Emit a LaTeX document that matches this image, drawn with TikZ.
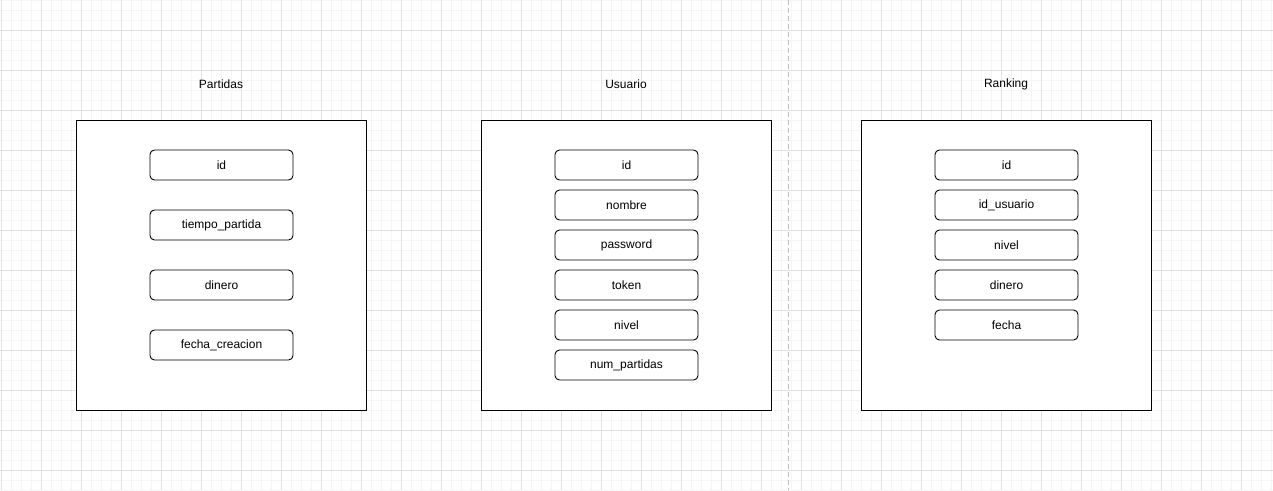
\documentclass[tikz,border=0pt]{standalone}
\usepackage{fontspec}
\setmainfont{Liberation Sans}
\usepackage{tikz}
\usetikzlibrary{positioning}

\definecolor{gridminor}{RGB}{245,245,245}
\definecolor{gridmajor}{RGB}{226,226,226}
\definecolor{sepgray}{RGB}{190,190,190}

\tikzset{
  tabla/.style={draw, fill=white, line width=1pt, minimum width=290pt, minimum height=290pt, inner sep=0pt},
  campo/.style={draw, fill=white, line width=0.9pt, rounded corners=4.5pt, minimum width=143pt, minimum height=30pt, inner sep=0pt},
  titulo/.style={inner sep=0pt}
}

\begin{document}
\begin{tikzpicture}[x=1pt, y=-1pt, font=\fontsize{12}{14}\selectfont]
\useasboundingbox (0,0) rectangle (1273,490);
\fill [white] (0,0) rectangle (1273,490);

% grid
\foreach \k in {0,...,127} \draw [gridminor, line width=0.8pt] (1+10*\k,0) -- (1+10*\k,490);
\foreach \k in {0,...,49} \draw [gridminor, line width=0.8pt] (0,10*\k) -- (1273,10*\k);
\foreach \k in {0,...,31} \draw [gridmajor, line width=0.8pt] (1+40*\k,0) -- (1+40*\k,490);
\foreach \k in {0,...,11} \draw [gridmajor, line width=0.8pt] (0,30+40*\k) -- (1273,30+40*\k);

\draw [sepgray, dashed, dash pattern=on 5pt off 3pt, line width=0.8pt] (788,0) -- (788,490);

% tablas
\node [tabla] (partidas) at (221,265) {};
\node [tabla] (usuario) at (626,265) {};
\node [tabla] (ranking) at (1006,265) {};

\node [titulo] (tpartidas) at (221,84) {Partidas};
\node [titulo] (tusuario) at (626,84) {Usuario};
\node [titulo] (tranking) at (1006,84) {Ranking};

% campos
\foreach \txt [count=\i] in {id,tiempo\_partida,dinero,fecha\_creacion}
  \node [campo] (p\i) at (221.5,105+60*\i) {\txt};

\foreach \txt [count=\i] in {id,nombre,password,token,nivel,num\_partidas}
  \node [campo] (u\i) at (626.5,125+40*\i) {\txt};

\foreach \txt [count=\i] in {id,id\_usuario,nivel,dinero,fecha}
  \node [campo] (r\i) at (1006.5,125+40*\i) {\txt};
\end{tikzpicture}
\end{document}
